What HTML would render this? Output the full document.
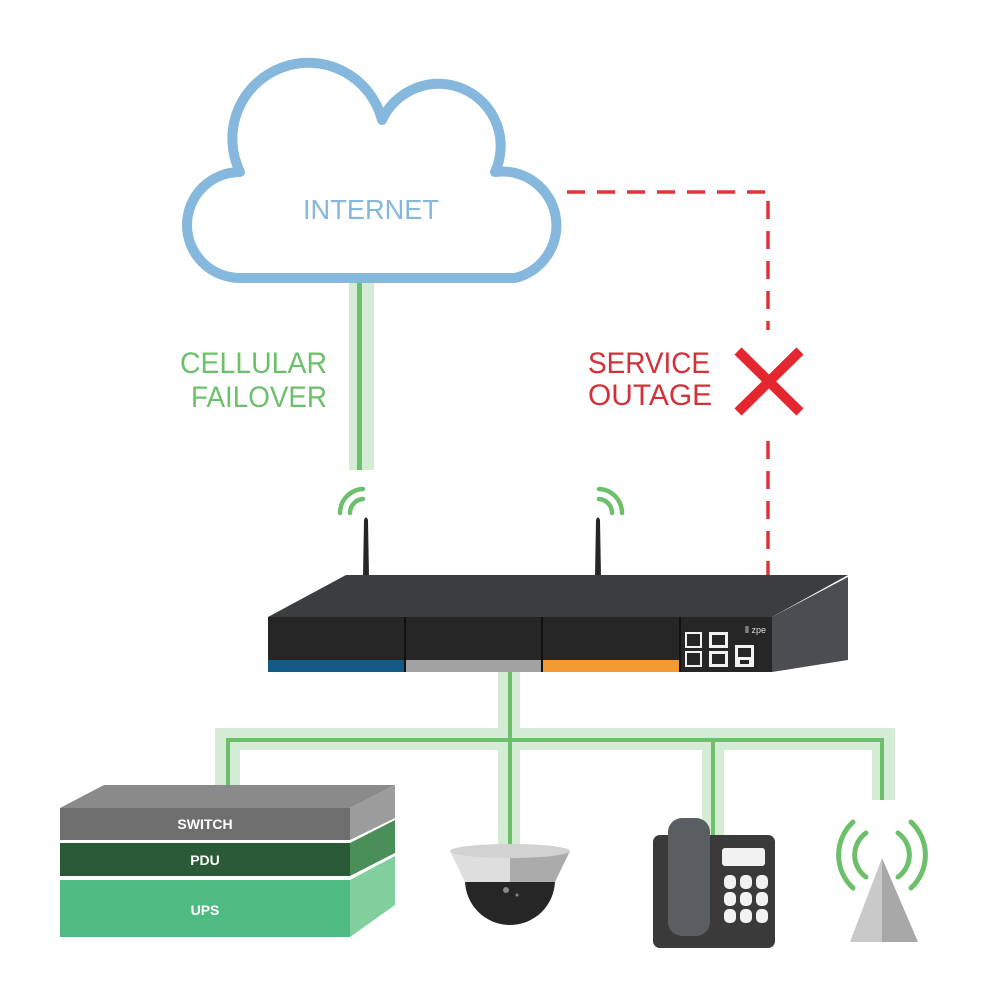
<!DOCTYPE html>
<html><head><meta charset="utf-8"><style>html,body{margin:0;padding:0;background:#fff}svg{display:block}</style></head>
<body>
<svg width="1008" height="1006" viewBox="0 0 1008 1006" xmlns="http://www.w3.org/2000/svg" font-family="Liberation Sans, sans-serif">
<rect width="1008" height="1006" fill="#fff"/>
<!-- cellular line -->
<rect x="349" y="282" width="25" height="188" fill="#d4ecd4"/>
<rect x="357" y="282" width="5" height="188" fill="#6cc06b"/>
<!-- cloud -->
<path d="M240,278 A53,53 0 0 1 240,172 A76,76 0 1 1 382,120 A62,62 0 0 1 495,172 A54,54 0 0 1 515,278 Z" fill="#fff" stroke="#85b8dc" stroke-width="10" stroke-linejoin="round"/>
<text x="371" y="219" font-size="28" fill="#85b8dc" text-anchor="middle" textLength="136" lengthAdjust="spacingAndGlyphs">INTERNET</text>
<!-- red dashed -->
<path d="M567,192 H768 V575" fill="none" stroke="#e0343c" stroke-width="3.5" stroke-dasharray="18,12"/>
<rect x="720" y="330" width="90" height="100" fill="#fff"/>
<path d="M738,351 L800,412 M800,351 L738,412" stroke="#e4262f" stroke-width="10"/>
<text x="327" y="373" font-size="30" fill="#6cc06b" text-anchor="end" textLength="147" lengthAdjust="spacingAndGlyphs">CELLULAR</text>
<text x="327" y="407" font-size="30" fill="#6cc06b" text-anchor="end" textLength="136" lengthAdjust="spacingAndGlyphs">FAILOVER</text>
<text x="588" y="373" font-size="30" fill="#d3303a" textLength="122" lengthAdjust="spacingAndGlyphs">SERVICE</text>
<text x="588" y="405" font-size="30" fill="#d3303a" textLength="124" lengthAdjust="spacingAndGlyphs">OUTAGE</text>
<!-- wifi arcs -->
<g fill="none" stroke="#6cc06b" stroke-width="4.5" stroke-linecap="round">
<path d="M340,513 A24,24 0 0 1 363,489"/>
<path d="M350,513 A14,14 0 0 1 363,499"/>
<path d="M622,513 A24,24 0 0 0 599,489"/>
<path d="M612,513 A14,14 0 0 0 599,499"/>
</g>
<!-- antennas -->
<path d="M363,577 L364,520 Q366,515 368,520 L369,577 Z" fill="#262626"/>
<path d="M595,577 L596,520 Q598,515 600,520 L601,577 Z" fill="#262626"/>
<!-- router -->
<polygon points="268,617 346,575 848,575 772,617" fill="#3c3d3f"/>
<polygon points="772,617 848,577 848,660 772,672" fill="#4c4d50"/>
<rect x="268" y="617" width="504" height="55" fill="#262626"/>
<rect x="268" y="660" width="137" height="12" fill="#135a85"/>
<rect x="405" y="660" width="137" height="12" fill="#a2a2a2"/>
<rect x="542" y="660" width="138" height="12" fill="#f39a33"/>
<g stroke="#111" stroke-width="2"><line x1="405" y1="617" x2="405" y2="672"/><line x1="542" y1="617" x2="542" y2="672"/><line x1="680" y1="617" x2="680" y2="672"/></g>
<g fill="#f2f2f2"><rect x="685" y="632" width="17" height="16"/><rect x="685" y="651" width="17" height="16"/><rect x="709" y="632" width="19" height="16"/><rect x="709" y="651" width="19" height="16"/><rect x="735" y="645" width="19" height="22"/></g>
<g fill="#262626"><rect x="687" y="634" width="13" height="12"/><rect x="687" y="653" width="13" height="12"/><rect x="712" y="635" width="13" height="10"/><rect x="712" y="654" width="13" height="10"/><rect x="738" y="648" width="13" height="9"/><rect x="740" y="660" width="9" height="4"/></g>
<text x="745" y="633" font-size="9" fill="#ddd">⦀ zpe</text>
<!-- bus -->
<g fill="#d4ecd4">
<rect x="498" y="672" width="22" height="70"/>
<rect x="215" y="728" width="680" height="22"/>
<rect x="215" y="728" width="25" height="57"/>
<rect x="498" y="728" width="22" height="117"/>
<rect x="702" y="740" width="22" height="98"/>
<rect x="872" y="728" width="23" height="72"/>
</g>
<g fill="#6cc06b">
<rect x="508" y="672" width="4" height="173"/>
<rect x="226" y="738" width="658" height="4"/>
<rect x="226" y="738" width="4" height="47"/>
<rect x="711" y="738" width="4" height="100"/>
<rect x="880" y="738" width="4" height="62"/>
</g>
<!-- stack -->
<polygon points="60,808 104,785 395,785 350,808" fill="#8a8a8a"/>
<rect x="60" y="808" width="290" height="32" fill="#6e6e6e"/>
<polygon points="350,808 395,785 395,818 350,840" fill="#9c9c9c"/>
<rect x="60" y="843" width="290" height="33" fill="#2a5a37"/>
<polygon points="350,843 395,820 395,853 350,876" fill="#4a8f5a"/>
<rect x="60" y="880" width="290" height="57" fill="#4fba82"/>
<polygon points="350,880 395,856 395,905 350,937" fill="#80cf9c"/>
<g fill="#fff" font-size="14" font-weight="bold" text-anchor="middle">
<text x="205" y="829">SWITCH</text><text x="205" y="865">PDU</text><text x="205" y="915">UPS</text></g>
<!-- camera -->
<path d="M465,880 A45,45 0 0 0 555,880 Z" fill="#262626"/>
<polygon points="450,851 510,851 510,882 465,882" fill="#dedede"/>
<polygon points="510,851 570,851 555,882 510,882" fill="#ababab"/>
<ellipse cx="510" cy="851" rx="60" ry="7" fill="#d2d2d2"/>
<circle cx="506" cy="890" r="3" fill="#888"/><circle cx="517" cy="895" r="1.5" fill="#888"/>
<!-- phone -->
<rect x="653" y="835" width="122" height="113" rx="7" fill="#3a3a3a"/>
<rect x="668" y="818" width="42" height="118" rx="14" fill="#5a5e60"/>
<rect x="722" y="848" width="43" height="18" rx="3" fill="#f2f2f2"/>
<g fill="#f2f2f2">
<rect x="724" y="875" width="12" height="14" rx="5"/><rect x="740" y="875" width="12" height="14" rx="5"/><rect x="756" y="875" width="12" height="14" rx="5"/>
<rect x="724" y="892" width="12" height="14" rx="5"/><rect x="740" y="892" width="12" height="14" rx="5"/><rect x="756" y="892" width="12" height="14" rx="5"/>
<rect x="724" y="909" width="12" height="14" rx="5"/><rect x="740" y="909" width="12" height="14" rx="5"/><rect x="756" y="909" width="12" height="14" rx="5"/>
</g>
<!-- tower -->
<polygon points="882,858 850,942 882,942" fill="#c9c9c9"/>
<polygon points="882,858 918,942 882,942" fill="#a8a8a8"/>
<g fill="none" stroke="#6cc06b" stroke-width="5" stroke-linecap="round">
<path d="M866,833 A27,27 0 0 0 866,877"/>
<path d="M898,833 A27,27 0 0 1 898,877"/>
<path d="M853,822 A45,45 0 0 0 853,888"/>
<path d="M911,822 A45,45 0 0 1 911,888"/>
</g>
</svg>
</body></html>
